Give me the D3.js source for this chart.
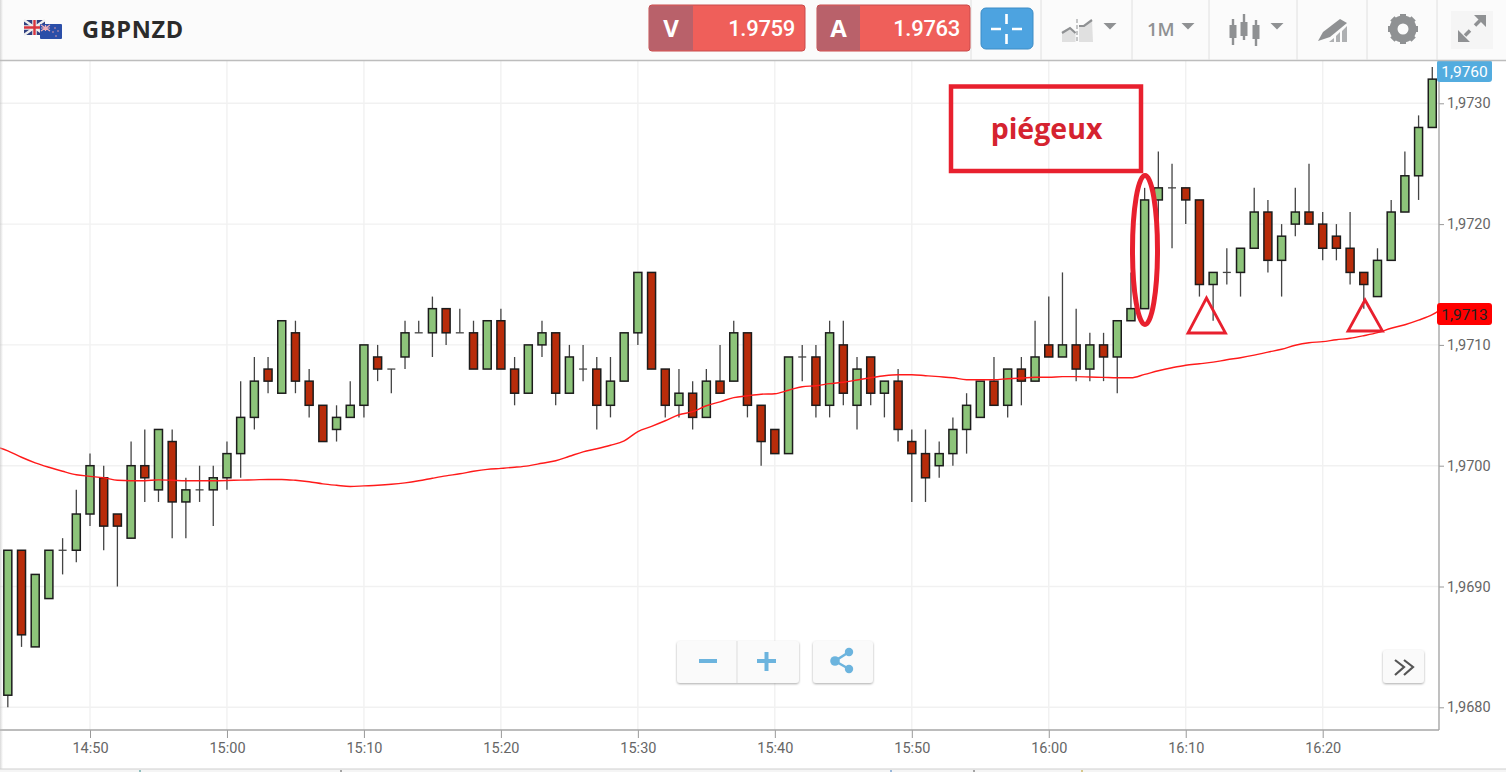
<!DOCTYPE html>
<html>
<head>
<meta charset="utf-8">
<title>GBPNZD</title>
<script src="https://cdn.jsdelivr.net/npm/d3@7"></script>
<style>
	html, body { margin: 0; padding: 0; background: #fff; overflow: hidden; }
	svg { display: block; }
	text { font-family: Roboto, sans-serif; }
</style>
</head>
<body>
<div id="chart-area"></div>
<script>
// SVG Size
let width = 1506,
	height = 772;

// candles: one per minute from 14:44, values in pips above 1,9680
let firstMinute = 14 * 60 + 44;
let opens  = [1,13,5,9,13,13,16,19,16,14,20,18,22,17,18,18,19,21,24,28,26,31,27,25,23,24,25,29,28,29,31,31,33,31,31,28,32,28,26,30,31,26,28,28,25,27,31,36,28,25,26,24,27,27,31,25,23,21,29,29,25,30,25,29,26,27,22,21,20,21,23,24,27,25,28,27,30,29,30,28,30,29,32,33,42,43,43,42,35,36,36,38,41,37,40,41,40,39,38,36,34,37,41,44,48];
let highs  = [13,13,11,13,14,18,21,20,16,22,23,23,23,19,20,20,22,27,29,29,32,32,28,25,25,27,30,30,28,32,32,34,33,33,32,32,33,29,30,32,31,30,30,29,29,31,36,36,28,28,27,28,30,32,31,25,23,29,30,30,32,32,29,29,27,28,23,23,22,24,26,27,29,28,29,32,34,36,33,31,31,32,36,43,46,45,43,42,36,38,38,43,42,40,43,45,41,40,41,36,38,42,46,49,53];
let lows   = [0,5,5,9,11,12,15,13,10,14,17,17,14,14,17,15,18,19,23,26,26,26,24,22,22,24,24,27,26,28,31,29,30,31,28,28,28,25,26,29,25,26,27,23,24,27,30,28,24,24,23,24,26,27,24,20,21,21,27,24,24,25,23,25,24,22,17,17,19,20,21,24,25,24,25,27,29,29,27,27,27,26,32,33,40,38,40,34,32,35,34,38,36,34,39,40,37,37,35,33,34,37,41,42,48];
let closes = [13,6,11,13,13,16,20,15,15,20,19,23,17,18,18,19,21,24,27,27,32,27,25,22,24,25,30,28,28,31,31,33,31,31,28,32,28,26,30,31,26,29,28,25,27,31,36,28,25,26,24,27,26,31,25,22,21,29,29,25,31,26,28,26,27,23,21,19,21,23,25,27,25,28,27,29,29,30,28,30,29,32,33,42,43,43,42,35,36,36,38,41,37,39,41,40,38,38,36,35,37,41,44,48,52];

// moving average, read at each minute from 14:43 to 16:29
let maFirstMinute = firstMinute - 1;
let maValues = [21.61,21.23,20.70,20.24,19.87,19.54,19.25,19.12,19.00,18.79,18.75,18.75,18.83,18.79,18.75,18.75,18.75,18.77,18.81,18.83,18.86,18.86,18.79,18.67,18.50,18.38,18.28,18.33,18.38,18.46,18.58,18.75,18.96,19.16,19.33,19.54,19.70,19.78,19.87,19.99,20.20,20.41,20.78,21.15,21.40,21.69,22.06,22.83,23.26,23.72,24.22,24.47,24.96,25.29,25.63,25.79,25.92,25.96,26.25,26.54,26.62,26.79,26.91,27.09,27.28,27.45,27.53,27.53,27.45,27.37,27.28,27.12,27.12,27.12,27.20,27.26,27.32,27.32,27.37,27.37,27.34,27.31,27.28,27.28,27.56,27.86,28.11,28.32,28.44,28.57,28.77,28.94,29.15,29.40,29.64,29.97,30.18,30.27,30.43,30.55,30.76,31.01,31.38,31.67,32.05,32.50,33.25];

// axis ticks
let timeLabels = ["14:50","15:00","15:10","15:20","15:30","15:40","15:50","16:00","16:10","16:20"];
let priceTicks = [0,10,20,30,40,50];
let priceLabels = ["1,9680","1,9690","1,9700","1,9710","1,9720","1,9730"];

// header and tags
let pairName = "GBPNZD";
let sellLabel = "V", sellPrice = "1.9759";
let buyLabel = "A", buyPrice = "1.9763";
let periodLabel = "1M";
let lastTag = "1,9760", maTag = "1,9713";
let noteText = "piégeux";

let green = "#8dc47a", red = "#b82c0a";

let svg = d3.select("#chart-area")
	.append("svg")
	.attr("width", width)
	.attr("height", height);

let plot = { left: 0, right: 1439, top: 60, bottom: 730 };

function toMinutes(label) {
	let parts = label.split(":");
	return +parts[0] * 60 + +parts[1];
}

let xScale = d3.scaleLinear()
	.domain([toMinutes("14:50"), toMinutes("16:20")])
	.range([90, 1322.7]);

let yScale = d3.scaleLinear()
	.domain([0, 50])
	.range([707.3, 103.3]);

svg.append("defs").append("clipPath")
	.attr("id", "plot-clip")
	.append("rect")
	.attr("x", plot.left)
	.attr("y", plot.top)
	.attr("width", plot.right - plot.left)
	.attr("height", plot.bottom - plot.top);

drawGrid();
drawCandles();
drawAxes();
drawAverage();
drawTags();
drawNotes();
drawHeader();
drawControls();
drawFooter();

function drawGrid() {
	let grid = svg.append("g").attr("stroke", "#f1f1f1").attr("stroke-width", 1.4);

	grid.selectAll(".vgrid")
		.data(timeLabels)
		.enter()
		.append("line")
		.attr("x1", d => xScale(toMinutes(d)))
		.attr("x2", d => xScale(toMinutes(d)))
		.attr("y1", plot.top)
		.attr("y2", plot.bottom);

	grid.selectAll(".hgrid")
		.data(priceTicks)
		.enter()
		.append("line")
		.attr("x1", plot.left)
		.attr("x2", plot.right)
		.attr("y1", d => yScale(d))
		.attr("y2", d => yScale(d));
}

function drawCandles() {
	let candles = opens.map((open, i) => ({
		minute: firstMinute + i,
		open: open,
		high: highs[i],
		low: lows[i],
		close: closes[i]
	}));

	let g = svg.append("g").attr("clip-path", "url(#plot-clip)");

	g.selectAll(".wick")
		.data(candles)
		.enter()
		.append("line")
		.attr("class", "wick")
		.attr("x1", d => xScale(d.minute))
		.attr("x2", d => xScale(d.minute))
		.attr("y1", d => yScale(d.high))
		.attr("y2", d => yScale(d.low))
		.attr("stroke", "#444")
		.attr("stroke-width", 1.3);

	// open equals close: only a short dash
	g.selectAll(".doji")
		.data(candles.filter(d => d.open === d.close))
		.enter()
		.append("line")
		.attr("class", "doji")
		.attr("x1", d => xScale(d.minute) - 4)
		.attr("x2", d => xScale(d.minute) + 4)
		.attr("y1", d => yScale(d.close))
		.attr("y2", d => yScale(d.close))
		.attr("stroke", "#444")
		.attr("stroke-width", 1.3);

	g.selectAll(".body")
		.data(candles.filter(d => d.open !== d.close))
		.enter()
		.append("rect")
		.attr("class", "body")
		.attr("x", d => xScale(d.minute) - 4)
		.attr("width", 8)
		.attr("y", d => yScale(Math.max(d.open, d.close)))
		.attr("height", d => Math.abs(yScale(d.open) - yScale(d.close)))
		.attr("fill", d => d.close > d.open ? green : red)
		.attr("stroke", "#1c1c1c")
		.attr("stroke-width", 1.5);
}

function drawAxes() {
	let xAxis = d3.axisBottom(xScale)
		.tickValues(timeLabels.map(toMinutes))
		.tickFormat((d, i) => timeLabels[i])
		.tickSize(8)
		.tickSizeOuter(0);

	let yAxis = d3.axisRight(yScale)
		.tickValues(priceTicks)
		.tickFormat((d, i) => priceLabels[i])
		.tickSize(5)
		.tickSizeOuter(0);

	let gx = svg.append("g")
		.attr("transform", "translate(0," + plot.bottom + ")")
		.call(xAxis);
	let gy = svg.append("g")
		.attr("transform", "translate(" + plot.right + ",0)")
		.call(yAxis);

	[gx, gy].forEach(g => {
		g.select(".domain").remove();
		g.selectAll("line").attr("stroke", "#999");
		g.selectAll("text")
			.attr("fill", "#666")
			.style("font-family", "Roboto, sans-serif")
			.style("font-size", "14.5px");
	});
	gx.selectAll("text").attr("y", 13).attr("dy", "0.71em");
	gy.selectAll("text").attr("x", 8).attr("dy", "0.32em");

	svg.append("line")
		.attr("x1", plot.left).attr("x2", plot.right)
		.attr("y1", plot.bottom).attr("y2", plot.bottom)
		.attr("stroke", "#a6a6a6").attr("stroke-width", 1.6);
	svg.append("line")
		.attr("x1", plot.right).attr("x2", plot.right)
		.attr("y1", plot.top).attr("y2", plot.bottom)
		.attr("stroke", "#a6a6a6").attr("stroke-width", 1.4);
}

function drawAverage() {
	let line = d3.line()
		.x((d, i) => xScale(maFirstMinute + i))
		.y(d => yScale(d))
		.curve(d3.curveMonotoneX);

	svg.append("path")
		.datum(maValues)
		.attr("clip-path", "url(#plot-clip)")
		.attr("d", line)
		.attr("fill", "none")
		.attr("stroke", "#ff1a1a")
		.attr("stroke-width", 1.4);
}

function drawTags() {
	let tags = [
		{ text: lastTag, y: 60, h: 22, fill: "#53acdf", color: "#fff" },
		{ text: maTag, y: 303, h: 22, fill: "#ff0000", color: "#222" }
	];
	let g = svg.selectAll(".tag").data(tags).enter().append("g");
	g.append("rect")
		.attr("x", 1437).attr("y", d => d.y)
		.attr("width", 55).attr("height", d => d.h)
		.attr("rx", 3)
		.attr("fill", d => d.fill);
	g.append("text")
		.attr("x", 1464.5).attr("y", d => d.y + d.h / 2 + 5.5)
		.attr("text-anchor", "middle")
		.attr("font-size", 15.5)
		.attr("fill", d => d.color)
		.text(d => d.text);
}

function drawNotes() {
	let noteColor = "#e8202e";

	svg.append("rect")
		.attr("x", 951).attr("y", 86.5)
		.attr("width", 190).attr("height", 84.5)
		.attr("fill", "none")
		.attr("stroke", noteColor)
		.attr("stroke-width", 4.5);

	svg.append("text")
		.attr("x", 1046.5).attr("y", 139)
		.attr("text-anchor", "middle")
		.style("font-family", "'Open Sans', sans-serif")
		.attr("font-size", 28.5)
		.attr("font-weight", 700)
		.attr("fill", "#d5232f")
		.text(noteText);

	svg.append("ellipse")
		.attr("cx", 1145).attr("cy", 250)
		.attr("rx", 12.5).attr("ry", 74.5)
		.attr("fill", "none")
		.attr("stroke", noteColor)
		.attr("stroke-width", 5);

	svg.selectAll(".mark")
		.data(["M1206.5 298 L1188 333 L1225.5 333 Z", "M1365 300 L1348 331 L1382.5 331 Z"])
		.enter()
		.append("path")
		.attr("d", d => d)
		.attr("fill", "none")
		.attr("stroke", noteColor)
		.attr("stroke-width", 2.8);
}

function drawHeader() {
	let head = svg.append("g");

	head.append("rect")
		.attr("width", width).attr("height", 60)
		.attr("fill", "#fbfbfb");
	head.append("line")
		.attr("x1", 0).attr("x2", width)
		.attr("y1", 60.5).attr("y2", 60.5)
		.attr("stroke", "#bdbdbd").attr("stroke-width", 1.4);

	[971, 1041, 1132, 1209, 1297, 1367, 1437].forEach(x => {
		head.append("line")
			.attr("x1", x).attr("x2", x)
			.attr("y1", 0).attr("y2", 60)
			.attr("stroke", "#e0e0e0");
	});

	drawFlags(head);

	head.append("text")
		.attr("x", 82).attr("y", 37.5)
		.style("font-family", "'Open Sans', sans-serif")
		.attr("font-size", 23.5)
		.attr("font-weight", 700)
		.attr("letter-spacing", 0.7)
		.attr("fill", "#2b2b2b")
		.text(pairName);

	priceButton(head, 649, 693, 805, sellLabel, sellPrice);
	priceButton(head, 817, 860, 970, buyLabel, buyPrice);

	// crosshair button
	head.append("rect")
		.attr("x", 981).attr("y", 8)
		.attr("width", 52).attr("height", 41)
		.attr("rx", 5)
		.attr("fill", "#4da3e0")
		.attr("stroke", "#3c8cc6");
	head.append("path")
		.attr("d", "M1006.5 14 V24 M1006.5 34 V44 M991 29 H1001 M1012 29 H1022")
		.attr("stroke", "#fff").attr("stroke-width", 2.6);

	let iconGray = "#8f9193";

	// chart type icon
	head.append("path")
		.attr("d", "M1062 42 V31 L1070 28 L1075.5 33 V42 Z M1079 42 V27 L1084 26 L1092 20 L1093 42 Z")
		.attr("fill", "#e0e0e0");
	head.append("path")
		.attr("d", "M1062 33 L1070 28 L1075.5 33 M1079 26 L1084 26 L1092 20")
		.attr("fill", "none").attr("stroke", iconGray).attr("stroke-width", 2.2);
	head.append("line")
		.attr("x1", 1077).attr("x2", 1077).attr("y1", 19).attr("y2", 43)
		.attr("stroke", iconGray).attr("stroke-dasharray", "4 2");

	caret(head, 1110);

	head.append("text")
		.attr("x", 1147).attr("y", 36)
		.style("font-family", "'Open Sans', sans-serif")
		.attr("font-size", 18.5)
		.attr("font-weight", 600)
		.attr("fill", iconGray)
		.text(periodLabel);
	caret(head, 1188);

	// candles icon
	[[1233, 19, 45, 25, 38], [1244, 14, 40, 22, 36], [1256, 20, 46, 25, 39]].forEach(c => {
		head.append("line")
			.attr("x1", c[0]).attr("x2", c[0]).attr("y1", c[1]).attr("y2", c[2])
			.attr("stroke", iconGray).attr("stroke-width", 2.4);
		head.append("rect")
			.attr("x", c[0] - 3.5).attr("y", c[3])
			.attr("width", 7).attr("height", c[4] - c[3])
			.attr("fill", iconGray);
	});
	caret(head, 1277);

	// pencil icon
	head.append("path")
		.attr("d", "M1318 41 L1323 32 L1340 19 L1347 23 L1330 37 Z")
		.attr("fill", iconGray);
	head.append("path")
		.attr("d", "M1329 42 L1334 38 V42 Z M1336 42 V36 L1340 32 V42 Z M1342 42 V31 L1347 26 V42 Z")
		.attr("fill", "#aeb0b2");

	// gear icon
	head.append("circle")
		.attr("cx", 1403).attr("cy", 29).attr("r", 9.5)
		.attr("fill", "none").attr("stroke", iconGray).attr("stroke-width", 8);
	d3.range(8).forEach(i => {
		head.append("rect")
			.attr("x", 1400).attr("y", 14)
			.attr("width", 6).attr("height", 6)
			.attr("fill", iconGray)
			.attr("transform", "rotate(" + i * 45 + " 1403 29)");
	});

	// expand icon
	head.append("rect")
		.attr("x", 1451).attr("y", 11)
		.attr("width", 42).attr("height", 38)
		.attr("fill", "#f5f5f5");
	head.append("path")
		.attr("d", "M1474 15 H1486 V27 Z M1458 30 V42 H1470 Z")
		.attr("fill", iconGray);
	head.append("path")
		.attr("d", "M1465 35.5 L1470 30.5 M1475 25.5 L1480 20.5")
		.attr("stroke", iconGray).attr("stroke-width", 3.5);

	// shade on the left edge
	let shade = svg.append("defs").append("linearGradient").attr("id", "edge-shade");
	shade.append("stop").attr("offset", 0).attr("stop-color", "#bbb").attr("stop-opacity", 0.55);
	shade.append("stop").attr("offset", 1).attr("stop-color", "#bbb").attr("stop-opacity", 0);
	svg.append("rect")
		.attr("width", 3).attr("height", height)
		.attr("fill", "url(#edge-shade)");
}

function priceButton(parent, x0, x1, x2, label, price) {
	parent.append("rect")
		.attr("x", x0).attr("y", 5)
		.attr("width", x2 - x0).attr("height", 46)
		.attr("rx", 3)
		.attr("fill", "#ef5f5a")
		.attr("stroke", "#c94a4a");
	parent.append("path")
		.attr("d", "M" + x1 + " 5.5 H" + (x0 + 3) + " Q" + x0 + " 5.5 " + x0 + " 8.5 V47.5 Q" + x0 + " 50.5 " + (x0 + 3) + " 50.5 H" + x1 + " Z")
		.attr("fill", "#b9616a");
	parent.append("text")
		.attr("x", (x0 + x1) / 2).attr("y", 37)
		.attr("text-anchor", "middle")
		.style("font-family", "'Open Sans', sans-serif")
		.attr("font-size", 24)
		.attr("font-weight", 700)
		.attr("fill", "#fff")
		.text(label);
	parent.append("text")
		.attr("x", x2 - 10).attr("y", 36)
		.attr("text-anchor", "end")
		.attr("font-size", 22)
		.attr("font-weight", 500)
		.attr("letter-spacing", -0.3)
		.attr("fill", "#fff")
		.text(price);
}

function caret(parent, x) {
	parent.append("path")
		.attr("d", "M" + (x - 6.5) + " 23 H" + (x + 6.5) + " L" + x + " 29.5 Z")
		.attr("fill", "#8f9193");
}

function drawFlags(parent) {
	// UK
	parent.append("rect")
		.attr("x", 24).attr("y", 20).attr("width", 21).attr("height", 15)
		.attr("fill", "#2f3f7f");
	parent.append("path")
		.attr("d", "M24 20 L45 35 M45 20 L24 35")
		.attr("stroke", "#eee").attr("stroke-width", 2.6);
	parent.append("path")
		.attr("d", "M34.5 20 V35 M24 27.5 H45")
		.attr("stroke", "#eee").attr("stroke-width", 4.5);
	parent.append("path")
		.attr("d", "M34.5 20 V35 M24 27.5 H45")
		.attr("stroke", "#d8353f").attr("stroke-width", 2.4);
	// NZ
	parent.append("rect")
		.attr("x", 40).attr("y", 24).attr("width", 22).attr("height", 15)
		.attr("rx", 1)
		.attr("fill", "#2b4ea8");
	parent.append("path")
		.attr("d", "M41 25 L50 31 M50 25 L41 31 M45.5 25 V31 M41 28 H50")
		.attr("stroke", "#f0b0b8").attr("stroke-width", 1.2);
	[[55, 28], [58, 31], [53, 32], [56, 36]].forEach(s => {
		parent.append("circle")
			.attr("cx", s[0]).attr("cy", s[1]).attr("r", 0.8)
			.attr("fill", "#e9a0a8");
	});
}

function drawControls() {
	let blue = "#6cb4de";

	let shadow = svg.append("defs").append("filter")
		.attr("id", "button-shadow")
		.attr("x", "-10%").attr("y", "-10%")
		.attr("width", "120%").attr("height", "125%");
	shadow.append("feDropShadow")
		.attr("dx", 0).attr("dy", 1)
		.attr("stdDeviation", 0.8)
		.attr("flood-color", "#888")
		.attr("flood-opacity", 0.7);

	[[677, 641, 122, 42], [813, 641, 60, 42], [1383, 650, 41, 33]].forEach(b => {
		svg.append("rect")
			.attr("x", b[0]).attr("y", b[1])
			.attr("width", b[2]).attr("height", b[3])
			.attr("rx", 3)
			.attr("fill", "#fafafa")
			.attr("filter", "url(#button-shadow)");
	});

	svg.append("line")
		.attr("x1", 737).attr("x2", 737).attr("y1", 641).attr("y2", 683)
		.attr("stroke", "#ddd");

	svg.append("path")
		.attr("d", "M699 661 H717 M757 661 H776 M766.5 652 V671")
		.attr("stroke", blue).attr("stroke-width", 4);

	svg.append("path")
		.attr("d", "M849 652 L835 661 L849 669")
		.attr("fill", "none")
		.attr("stroke", blue).attr("stroke-width", 2.5);
	[[849, 652, 4.2], [835, 661, 4.8], [849, 669, 4.2]].forEach(c => {
		svg.append("circle")
			.attr("cx", c[0]).attr("cy", c[1]).attr("r", c[2])
			.attr("fill", blue);
		});

	svg.append("path")
		.attr("d", "M1395 660 L1404 667 L1395 675 M1404 660 L1413 667 L1404 675")
		.attr("fill", "none")
		.attr("stroke", "#555").attr("stroke-width", 2.2);
}

function drawFooter() {
	svg.append("rect")
		.attr("x", 0).attr("y", 769)
		.attr("width", width).attr("height", 3)
		.attr("fill", "#f5f5f5");
	svg.append("line")
		.attr("x1", 0).attr("x2", width)
		.attr("y1", 769).attr("y2", 769)
		.attr("stroke", "#cfcfcf").attr("stroke-width", 1.2);

	// tops of the tabs cut off by the window
	[[140, "#2a8a8a"], [341, "#555"], [891, "#3c7ac0"], [974, "#555"], [1082, "#b89a20"]].forEach(t => {
		svg.append("line")
			.attr("x1", t[0]).attr("x2", t[0])
			.attr("y1", 770).attr("y2", 772)
			.attr("stroke", t[1]);
	});
}
</script>
</body>
</html>
